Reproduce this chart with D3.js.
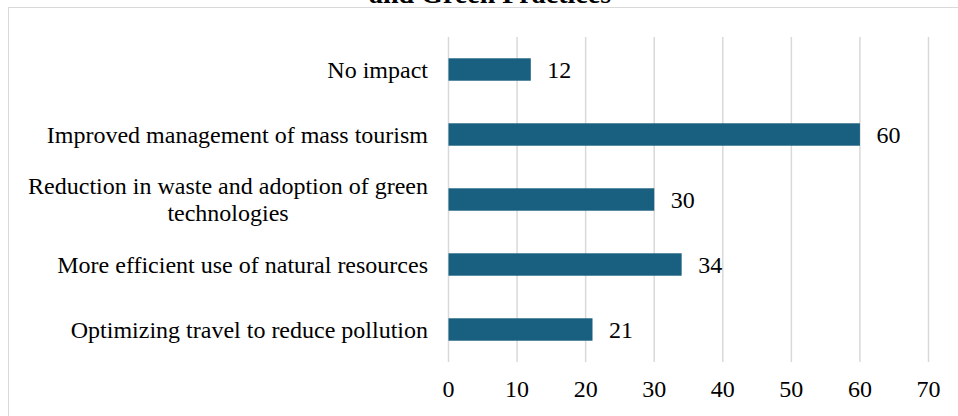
<!DOCTYPE html>
<html lang="en">
<head>
  <meta charset="UTF-8">
  <title>Impact on Sustainability and Green Practices</title>
  <script src="https://d3js.org/d3.v7.min.js"></script>
  <style>
    body { margin: 0; background: #fff; }
    svg { display: block; font-family: "Liberation Serif", "Times New Roman", serif; }
  </style>
</head>
<body>
  <div id="chart"></div>

  <script>
    // data
    const categories = [
      "No impact",
      "Improved management of mass tourism",
      "Reduction in waste and adoption of green technologies",
      "More efficient use of natural resources",
      "Optimizing travel to reduce pollution"
    ];
    const values = [12, 60, 30, 34, 21];
    const ticks = [0, 10, 20, 30, 40, 50, 60, 70];
    // wrapped label lines (as in the original)
    const labelLines = [
      ["No impact"],
      ["Improved management of mass tourism"],
      ["Reduction in waste and adoption of green", "technologies"],
      ["More efficient use of natural resources"],
      ["Optimizing travel to reduce pollution"]
    ];

    const width = 958, height = 416;
    const barColor = "#185f80";
    const gridColor = "#d9d9d9";

    const svg = d3.select("#chart").append("svg")
      .attr("width", width)
      .attr("height", height);

    // outer chart border (runs off the bottom/right edge)
    svg.append("rect")
      .attr("x", 8.5).attr("y", 7.5)
      .attr("width", 1000).attr("height", 500)
      .attr("fill", "none")
      .attr("stroke", gridColor);

    // title, mostly cut off at the top (as in the reference)
    svg.append("text")
      .attr("x", 490).attr("y", 3)
      .attr("text-anchor", "middle")
      .attr("font-size", 28)
      .attr("font-weight", "bold")
      .text("and Green Practices");

    const x = d3.scaleLinear().domain([0, 70]).range([448, 928]);
    const y = d3.scaleBand()
      .domain(categories)
      .range([37, 362])
      .paddingInner(0.655)
      .paddingOuter(0.3275);

    // gridlines
    svg.append("g")
      .selectAll("line")
      .data(ticks)
      .join("line")
      .attr("x1", d => x(d) + 0.5).attr("x2", d => x(d) + 0.5)
      .attr("y1", 37).attr("y2", 362)
      .attr("stroke", gridColor)
      .attr("stroke-width", 1.5);

    // x axis labels
    const xAxis = d3.axisBottom(x).tickValues(ticks).tickSize(0).tickPadding(0);
    const gx = svg.append("g")
      .attr("transform", "translate(0, 380)")
      .call(xAxis);
    gx.select(".domain").remove();
    gx.selectAll("text")
      .attr("font-family", "Liberation Serif, Times New Roman, serif")
      .attr("font-size", 24)
      .attr("fill", "#000")
      .attr("dy", "0.7em");

    // bars
    svg.append("g")
      .selectAll("rect")
      .data(values)
      .join("rect")
      .attr("x", x(0) + 0.5)
      .attr("y", (d, i) => y(categories[i]))
      .attr("width", d => x(d) - x(0))
      .attr("height", y.bandwidth())
      .attr("fill", barColor);

    // value labels
    svg.append("g")
      .selectAll("text")
      .data(values)
      .join("text")
      .attr("x", d => x(d) + 17)
      .attr("y", (d, i) => y(categories[i]) + y.bandwidth() / 2)
      .attr("dy", "0.35em")
      .attr("font-size", 24)
      .text(d => d);

    // category labels: block right-aligned, lines centred inside block
    const labelRight = x(0) - 20;
    const lineH = 27;
    labelLines.forEach((lines, i) => {
      const cy = y(categories[i]) + y.bandwidth() / 2;
      const t = svg.append("text")
        .attr("font-size", 24)
        .attr("text-anchor", "middle");
      const spans = lines.map((ln, j) => t.append("tspan")
        .attr("y", cy + (j - (lines.length - 1) / 2) * lineH)
        .attr("dy", "0.35em")
        .text(ln));
      const w = d3.max(spans, s => s.node().getComputedTextLength());
      spans.forEach(s => s.attr("x", labelRight - w / 2));
    });
  </script>
</body>
</html>
